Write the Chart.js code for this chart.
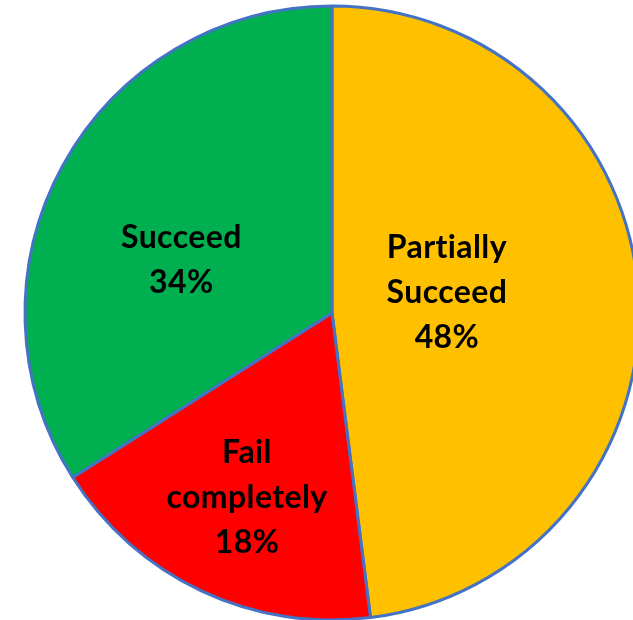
<!DOCTYPE html>
<html>
<head>
<meta charset="utf-8">
<script src="https://cdn.jsdelivr.net/npm/chart.js@4/dist/chart.umd.min.js"></script>
<style>
  html, body { margin:0; padding:0; background:#fff; overflow:hidden; }
  #wrap { position:absolute; left:-18px; top:-37px; width:700px; height:700px; }
</style>
</head>
<body>
<div id="wrap"><canvas id="pie" width="700" height="700"></canvas></div>
<script>
const categories = [["Partially", "Succeed"], ["Fail", "completely"], ["Succeed"]];
const shares = [48, 18, 34];
const colors = ["#FFC000", "#FF0000", "#00B050"];

// where each label sits: fraction of radius along mid-angle, plus a small vertical nudge
const labelRadius = [0.375, 0.65, 0.56];
const labelNudgeY = [-13, 4, 30];

const sliceLabels = {
  id: "sliceLabels",
  afterDatasetsDraw(chart){
    const ctx = chart.ctx;
    const arcs = chart.getDatasetMeta(0).data;
    ctx.save();
    ctx.fillStyle = "#000";
    ctx.font = "bold 32px Lato, 'Open Sans', sans-serif";
    ctx.letterSpacing = "0.4px"; // also stops the "ti" ligature
    ctx.textAlign = "center";
    ctx.textBaseline = "middle";
    arcs.forEach((arc, i) => {
      const mid = (arc.startAngle + arc.endAngle) / 2;
      const r = arc.outerRadius * labelRadius[i];
      const cx = arc.x + Math.cos(mid) * r;
      const cy = arc.y + Math.sin(mid) * r + labelNudgeY[i];
      const lines = [...categories[i], shares[i] + "%"];
      const lh = 45;
      const top = cy - (lines.length - 1) * lh / 2;
      lines.forEach((t, k) => ctx.fillText(t, cx, top + k * lh));
    });
    ctx.restore();
  }
};

new Chart(document.getElementById("pie"), {
  type: "pie",
  data: {
    labels: categories.map(c => c.join(" ")),
    datasets: [{
      data: shares,
      backgroundColor: colors,
      borderColor: "#4472C4",
      borderWidth: 3
    }]
  },
  options: {
    responsive: false,
    animation: false,
    radius: 307,
    plugins: { legend: { display: false }, tooltip: { enabled: false } }
  },
  plugins: [sliceLabels]
});
</script>
</body>
</html>
